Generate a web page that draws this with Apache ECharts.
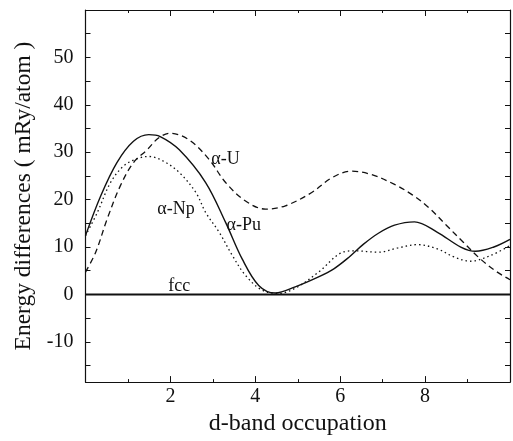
<!DOCTYPE html>
<html>
<head>
<meta charset="utf-8">
<script src="https://cdn.jsdelivr.net/npm/echarts@6/dist/echarts.min.js"></script>
<style>
  html, body { margin: 0; padding: 0; background: #fff; }
  #chart { width: 513px; height: 441px; }
</style>
</head>
<body>
<div id="chart"></div>
<script>
// values
const puX = [0, 0.36, 0.74, 1.13, 1.49, 1.76, 2.21, 2.83, 3.30, 3.69, 4.08, 4.47, 4.94, 5.49, 5.85, 6.2, 6.55, 6.9, 7.28, 7.75, 8.29, 8.84, 9.19, 9.62, 10];
const puY = [12.4, 20.8, 27.8, 32.3, 33.7, 33.3, 30.5, 23.6, 15.2, 7.5, 1.9, 0.3, 1.6, 3.7, 5.4, 7.8, 10.6, 12.9, 14.6, 15.3, 13.1, 10.0, 9.1, 10.0, 11.6];

const npX = [0, 0.28, 0.59, 0.90, 1.21, 1.49, 1.84, 2.21, 2.60, 2.83, 3.15, 3.46, 3.77, 4.16, 4.55, 4.94, 5.49, 6.03, 6.34, 6.89, 7.36, 7.82, 8.29, 8.68, 9.07, 9.54, 10];
const npY = [12.4, 17.3, 23.6, 27.1, 28.6, 29.1, 28.1, 25.7, 21.5, 17.3, 13.1, 8.2, 4.0, 0.9, 0.2, 1.3, 4.7, 8.8, 9.2, 8.9, 9.8, 10.5, 9.6, 7.9, 7.0, 8.2, 10.3];

const uX = [0, 0.24, 0.51, 0.82, 1.13, 1.45, 1.72, 1.99, 2.44, 2.91, 3.30, 3.77, 4.24, 4.71, 5.33, 5.80, 6.26, 6.73, 7.28, 7.70, 8.10, 8.50, 8.90, 9.30, 9.70, 10];
const uY = [4.7, 8.9, 15.9, 22.9, 27.8, 30.5, 33.0, 34.0, 32.6, 28.5, 23.6, 19.7, 18.0, 18.7, 21.5, 24.6, 26.0, 25.3, 23.2, 21.0, 18.2, 14.6, 11.0, 7.5, 4.7, 3.1];

const fccX = [0, 10];
const fccY = [0, 0];

const xLabels = [2, 4, 6, 8];
const yLabels = [-10, 0, 10, 20, 30, 40, 50];
const yTicks = [-15, -10, -5, 0, 5, 10, 15, 20, 25, 30, 35, 40, 45, 50, 55];

const zip = (xs, ys) => xs.map((x, i) => [x, ys[i]]);

const font = 'Liberation Serif, Times New Roman, serif';
const ink = '#111';

function curveLabel(text, x, y) {
  return {
    symbol: 'circle',
    symbolSize: 0,
    silent: true,
    label: { show: true, position: 'inside', formatter: text, color: ink, fontFamily: font, fontSize: 18 },
    data: [{ coord: [x, y] }],
  };
}

const xBase = {
  type: 'value',
  min: 0,
  max: 10,
  interval: 2,
  splitLine: { show: false },
  axisLine: { show: true, onZero: false, lineStyle: { color: ink, width: 1.2 } },
  axisTick: { show: true, inside: true, length: 6, lineStyle: { color: ink } },
  minorTick: { show: true, splitNumber: 2, length: 3, lineStyle: { color: ink } },
};

const yBase = {
  type: 'value',
  min: -18.5,
  max: 60,
  splitLine: { show: false },
  axisLine: { show: true, onZero: false, lineStyle: { color: ink, width: 1.2 } },
  axisTick: { show: true, inside: true, length: 5, customValues: yTicks, lineStyle: { color: ink } },
};

const chart = echarts.init(document.getElementById('chart'));
chart.setOption({
  animation: false,
  backgroundColor: '#fff',
  grid: { left: 85.5, right: 1, top: 10, bottom: 55 },
  xAxis: [
    {
      ...xBase,
      position: 'bottom',
      axisLabel: {
        color: ink, fontFamily: font, fontSize: 20, margin: 5,
        formatter: (v) => (xLabels.includes(v) ? String(v) : ''),
      },
      name: 'd-band occupation',
      nameLocation: 'middle',
      nameGap: 26,
      nameTextStyle: { color: ink, fontFamily: font, fontSize: 24 },
    },
    { ...xBase, position: 'top', axisLabel: { show: false } },
  ],
  yAxis: [
    {
      ...yBase,
      position: 'left',
      axisLabel: { color: ink, fontFamily: font, fontSize: 20, margin: 12, customValues: yLabels },
      name: 'Energy differences ( mRy/atom )',
      nameLocation: 'middle',
      nameGap: 50,
      nameTextStyle: { color: ink, fontFamily: font, fontSize: 23.5 },
    },
    { ...yBase, position: 'right', axisLabel: { show: false } },
  ],
  series: [
    {
      name: 'fcc',
      type: 'line',
      data: zip(fccX, fccY),
      showSymbol: false,
      lineStyle: { color: ink, width: 2 },
      markPoint: curveLabel('fcc', 2.21, 1.7),
    },
    {
      name: 'α-Pu',
      type: 'line',
      data: zip(puX, puY),
      smooth: 0.35,
      showSymbol: false,
      lineStyle: { color: ink, width: 1.4 },
      markPoint: curveLabel('α-Pu', 3.73, 14.6),
    },
    {
      name: 'α-Np',
      type: 'line',
      data: zip(npX, npY),
      smooth: 0.35,
      showSymbol: false,
      lineStyle: { color: ink, width: 1.3, type: [1.5, 3] },
      markPoint: curveLabel('α-Np', 2.13, 18.0),
    },
    {
      name: 'α-U',
      type: 'line',
      data: zip(uX, uY),
      smooth: 0.35,
      showSymbol: false,
      lineStyle: { color: ink, width: 1.3, type: [6, 4] },
      markPoint: curveLabel('α-U', 3.30, 28.5),
    },
  ],
});
</script>
</body>
</html>
